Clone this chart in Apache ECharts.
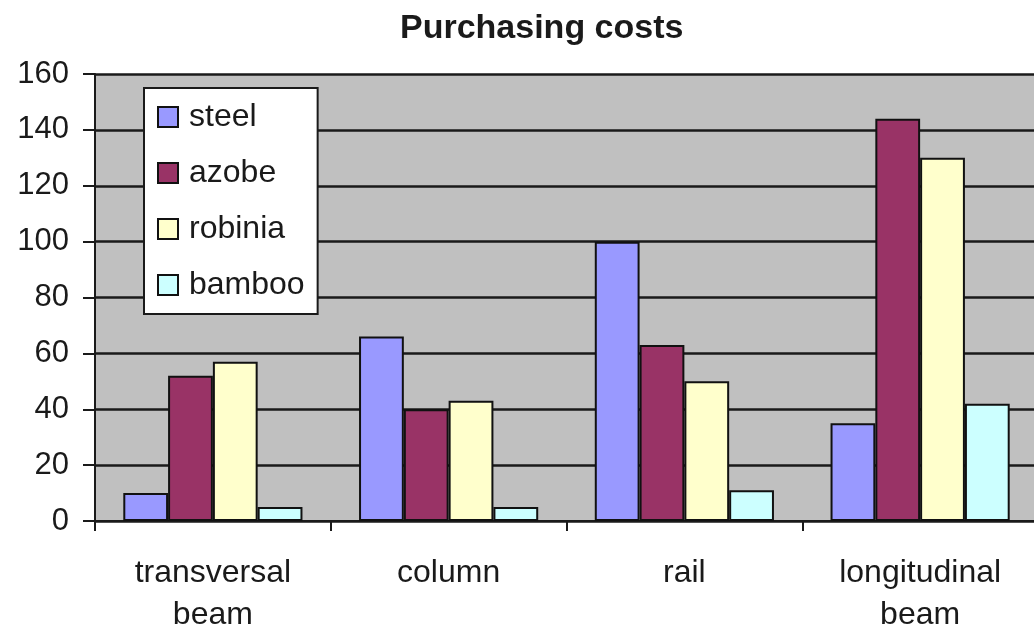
<!DOCTYPE html>
<html>
<head>
<meta charset="utf-8">
<script src="https://cdn.jsdelivr.net/npm/echarts@6/dist/echarts.min.js"></script>
<style>html,body{margin:0;padding:0;background:#fff;}#chart{width:1034px;height:632px;}</style>
</head>
<body>
<div id="chart"></div>
<script>
const categories = ['transversal\nbeam', 'column', 'rail', 'longitudinal\nbeam'];
const seriesNames = ['steel', 'azobe', 'robinia', 'bamboo'];
const steel = [10, 66, 100, 35];
const azobe = [52, 40, 63, 144];
const robinia = [57, 43, 50, 130];
const bamboo = [5, 5, 11, 42];
const colors = ['#9999FF', '#993366', '#FFFFCC', '#CCFFFF'];
const values = [steel, azobe, robinia, bamboo];

const font = 'Liberation Sans, Arial, sans-serif';
const chart = echarts.init(document.getElementById('chart'));
chart.setOption({
  animation: false,
  backgroundColor: '#ffffff',
  title: {
    text: 'Purchasing costs',
    left: 395,
    top: 7,
    textStyle: { fontFamily: font, fontSize: 34, fontWeight: 'bold', color: '#1a1a1a' }
  },
  legend: {
    orient: 'vertical',
    left: 144,
    top: 88,
    backgroundColor: '#ffffff',
    borderColor: '#1a1a1a',
    borderWidth: 2,
    borderRadius: 0,
    padding: [13, 13, 13, 13],
    itemWidth: 20,
    itemHeight: 20,
    itemGap: 24,
    icon: 'rect',
    textStyle: { fontFamily: font, fontSize: 32, lineHeight: 32, color: '#1a1a1a', padding: [0, 0, 0, 6] },
    data: seriesNames
  },
  grid: { left: 95, top: 74, right: -4, bottom: 111, show: true, backgroundColor: '#c0c0c0', borderWidth: 0, containLabel: false, outerBoundsMode: 'none' },
  xAxis: {
    type: 'category',
    data: categories,
    axisLine: { lineStyle: { color: '#1a1a1a', width: 2 } },
    axisTick: { show: true, length: 10, lineStyle: { color: '#1a1a1a', width: 2 } },
    axisLabel: { fontFamily: font, fontSize: 32, lineHeight: 42, color: '#1a1a1a', margin: 31 }
  },
  yAxis: {
    type: 'value',
    min: 0,
    max: 160,
    interval: 20,
    axisLine: { show: true, lineStyle: { color: '#1a1a1a', width: 2 } },
    axisTick: { show: true, length: 12, lineStyle: { color: '#1a1a1a', width: 2 } },
    axisLabel: { fontFamily: font, fontSize: 31, color: '#1a1a1a', margin: 26 },
    splitLine: { show: true, lineStyle: { color: '#1a1a1a', width: 2.5 } }
  },
  series: seriesNames.map((n, i) => ({
    name: n,
    type: 'bar',
    data: values[i],
    barGap: '0%',
    barCategoryGap: '24%',
    itemStyle: { color: colors[i], borderColor: '#111', borderWidth: 2 }
  }))
});
</script>
</body>
</html>
